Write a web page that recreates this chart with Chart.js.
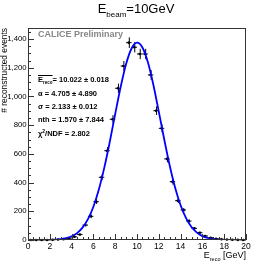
<!DOCTYPE html>
<html>
<head>
<meta charset="utf-8">
<script src="https://cdn.jsdelivr.net/npm/chart.js@4"></script>
<style>
  body { margin: 0; background: #fff; }
  canvas { display: block; }
</style>
</head>
<body>
<canvas id="chart" width="274" height="267"></canvas>
<script>
// histogram bins (bin centres, GeV) and counts
const binCenters = [0.25, 0.75, 1.25, 1.75, 2.25, 2.75, 3.25, 3.75, 4.25, 4.75,
                    5.25, 5.75, 6.25, 6.75, 7.25, 7.75, 8.25, 8.75, 9.25, 9.75,
                    10.25, 10.75, 11.25, 11.75, 12.25, 12.75, 13.25, 13.75, 14.25, 14.75,
                    15.25, 15.75, 16.25, 16.75, 17.25, 17.75, 18.25, 18.75, 19.25, 19.75];
const counts = [0, 0, 0, 0, 1, 3, 6, 12, 22, 38,
                104, 165, 267, 437, 622, 841, 1057, 1212, 1375, 1343,
                1296, 1296, 1150, 901, 778, 565, 406, 274, 209, 132,
                81, 51, 28, 16, 9, 5, 3, 2, 1, 0];
const countErrors = [0, 0, 0, 0, 1, 1.7, 2.4, 3.5, 4.7, 6.2,
                     10.2, 12.8, 16.3, 20.9, 24.9, 29, 32.5, 34.8, 37.1, 36.6,
                     36, 36, 33.9, 30, 27.9, 23.8, 20.1, 16.6, 14.5, 11.5,
                     9, 7.1, 5.3, 4, 3, 2.2, 1.7, 1.4, 1, 0];
const binHalfWidth = 0.25;

// fitted curve
const curveE = [0, 0.5, 1, 1.5, 2, 2.5, 3, 3.5, 4, 4.5,
                5, 5.5, 6, 6.5, 7, 7.5, 8, 8.5, 9, 9.5,
                10, 10.5, 11, 11.5, 12, 12.5, 13, 13.5, 14, 14.5,
                15, 15.5, 16, 16.5, 17, 17.5, 18, 18.5, 19, 19.5, 20];
const curveN = [0, 0, 0, 0.1, 1.2, 2.9, 6.1, 13, 25.6, 48,
                86, 145, 232, 352, 504, 683, 878, 1066, 1226, 1334,
                1375, 1341, 1238, 1082, 894, 700, 519, 364, 242, 152,
                90, 51, 27, 14, 6.5, 3, 1.3, 0.5, 0.2, 0, 0];

const fitLines = ["= 10.022 \u00b1 0.018", "\u03b1 = 4.705 \u00b1 4.890", "\u03c3 = 2.133 \u00b1 0.012",
                  "nth = 1.570 \u00b1 7.844", "/NDF = 2.802"];

const FONT = "'Liberation Sans', Arial, sans-serif";
Chart.defaults.font.family = FONT;

function drawSub(ctx, x, y, main, sub, size, subSize, bold) {
    var w = bold ? "bold " : "";
    ctx.font = w + size + "px " + FONT;
    ctx.fillText(main, x, y);
    var w1 = ctx.measureText(main).width;
    ctx.font = w + subSize + "px " + FONT;
    ctx.fillText(sub, x + w1, y + size * 0.28);
    return w1 + ctx.measureText(sub).width;
}

const rootPlugin = {
    id: "rootStyle",
    beforeDatasetsDraw: function(chart) {
        var ctx = chart.ctx;
        var xs = chart.scales.x, ys = chart.scales.y;
        ctx.save();
        ctx.strokeStyle = "#000";
        ctx.lineWidth = 1;
        ctx.beginPath();
        for (var i = 0; i < binCenters.length; i++) {
            var px = xs.getPixelForValue(binCenters[i]);
            var py = ys.getPixelForValue(counts[i]);
            ctx.moveTo(xs.getPixelForValue(binCenters[i] - binHalfWidth), py);
            ctx.lineTo(xs.getPixelForValue(binCenters[i] + binHalfWidth), py);
            if (countErrors[i] > 0) {
                ctx.moveTo(px + 0.5, ys.getPixelForValue(counts[i] - countErrors[i]));
                ctx.lineTo(px + 0.5, ys.getPixelForValue(counts[i] + countErrors[i]));
            }
        }
        ctx.stroke();
        ctx.restore();
    },
    afterDraw: function(chart) {
        var ctx = chart.ctx;
        var a = chart.chartArea;
        var xs = chart.scales.x, ys = chart.scales.y;
        ctx.save();
        // frame
        ctx.strokeStyle = "#333";
        ctx.lineWidth = 1;
        ctx.strokeRect(a.left + 0.5, a.top + 0.5, a.right - a.left - 1, a.bottom - a.top - 1);
        // ticks pointing inwards
        ctx.beginPath();
        for (var v = 0; v <= 20.001; v += 0.5) {
            var px = Math.round(xs.getPixelForValue(v)) + 0.5;
            var len = (Math.abs(v / 2 - Math.round(v / 2)) < 0.01) ? 6 : 3;
            ctx.moveTo(px, a.bottom);
            ctx.lineTo(px, a.bottom - len);
        }
        for (var n = 0; n <= 1450; n += 50) {
            var py = Math.round(ys.getPixelForValue(n)) + 0.5;
            var l2 = (n % 200 === 0) ? 6 : 3;
            ctx.moveTo(a.left, py);
            ctx.lineTo(a.left + l2, py);
        }
        ctx.stroke();

        ctx.fillStyle = "#000";
        ctx.textBaseline = "alphabetic";
        // title
        ctx.font = "13px " + FONT;
        var tw = ctx.measureText("E").width;
        ctx.font = "8px " + FONT;
        tw += ctx.measureText("beam").width;
        ctx.font = "13px " + FONT;
        tw += ctx.measureText("=10GeV").width;
        var tx = 136 - tw / 2;
        var w0 = drawSub(ctx, tx, 13, "E", "beam", 13, 8, false);
        ctx.font = "13px " + FONT;
        ctx.fillText("=10GeV", tx + w0, 13);

        // y axis title
        ctx.save();
        ctx.translate(7, a.top);
        ctx.rotate(-Math.PI / 2);
        ctx.textAlign = "right";
        ctx.font = "8.4px " + FONT;
        ctx.fillText("# reconstructed events", 0, 0);
        ctx.restore();

        // x axis title
        ctx.font = "9px " + FONT;
        var xw = ctx.measureText("E").width + ctx.measureText(" [GeV]").width;
        ctx.font = "5.5px " + FONT;
        xw += ctx.measureText("reco").width;
        var xx = a.right - xw;
        var w1 = drawSub(ctx, xx, 258, "E", "reco", 9, 5.5, false);
        ctx.font = "9px " + FONT;
        ctx.fillText(" [GeV]", xx + w1, 258);

        // CALICE label
        ctx.fillStyle = "#878787";
        ctx.font = "bold 9px " + FONT;
        ctx.fillText("CALICE Preliminary", 38, 37);

        // fit results
        ctx.fillStyle = "#000";
        var x0 = 38;
        var rows = [82, 95.5, 109, 122, 135.5];
        var we = drawSub(ctx, x0, rows[0], "E", "reco", 7.5, 4.5, true);
        ctx.strokeStyle = "#000";
        ctx.beginPath();
        ctx.moveTo(x0, rows[0] - 6.5);
        ctx.lineTo(x0 + we, rows[0] - 6.5);
        ctx.stroke();
        ctx.font = "bold 7.5px " + FONT;
        ctx.fillText(fitLines[0], x0 + we, rows[0]);
        for (var r = 1; r < 4; r++) {
            ctx.fillText(fitLines[r], x0, rows[r]);
        }
        ctx.fillText("\u03c7", x0, rows[4]);
        var cw = ctx.measureText("\u03c7").width;
        ctx.font = "bold 5px " + FONT;
        ctx.fillText("2", x0 + cw, rows[4] - 3);
        var sw = ctx.measureText("2").width;
        ctx.font = "bold 7.5px " + FONT;
        ctx.fillText(fitLines[4], x0 + cw + sw, rows[4]);
        ctx.restore();
    }
};

var ctx = document.getElementById("chart").getContext("2d");
var myChart = new Chart(ctx, {
    type: "scatter",
    data: {
        datasets: [{
            type: "line",
            data: curveE.map(function(e, i) { return {x: e, y: curveN[i]}; }),
            borderColor: "#0000ff",
            borderWidth: 1.8,
            pointRadius: 0,
            cubicInterpolationMode: "monotone",
            fill: false
        }, {
            data: binCenters.map(function(e, i) { return {x: e, y: counts[i]}; }),
            backgroundColor: "#000",
            borderColor: "#000",
            pointRadius: 1.3,
            pointBorderWidth: 0,
            clip: false
        }]
    },
    options: {
        responsive: false,
        animation: false,
        events: [],
        layout: { padding: { top: 28, right: 28, left: 0, bottom: 0 } },
        plugins: { legend: { display: false }, tooltip: { enabled: false } },
        scales: {
            x: {
                type: "linear",
                min: 0,
                max: 20,
                grid: { display: false, drawTicks: false },
                border: { display: false },
                ticks: { stepSize: 2, padding: 2, color: "#000", font: { size: 8.5 }, maxRotation: 0 },
                afterFit: function(scale) { scale.height = 27; }
            },
            y: {
                min: 0,
                max: 1477,
                grid: { display: false, drawTicks: false },
                border: { display: false },
                ticks: { stepSize: 200, padding: 1.3, color: "#000", font: { size: 7.8 } },
                afterBuildTicks: function(scale) {
                    scale.ticks = scale.ticks.filter(function(t) { return t.value % 200 === 0; });
                },
                afterFit: function(scale) { scale.width = 28; }
            }
        }
    },
    plugins: [rootPlugin]
});
</script>
</body>
</html>
